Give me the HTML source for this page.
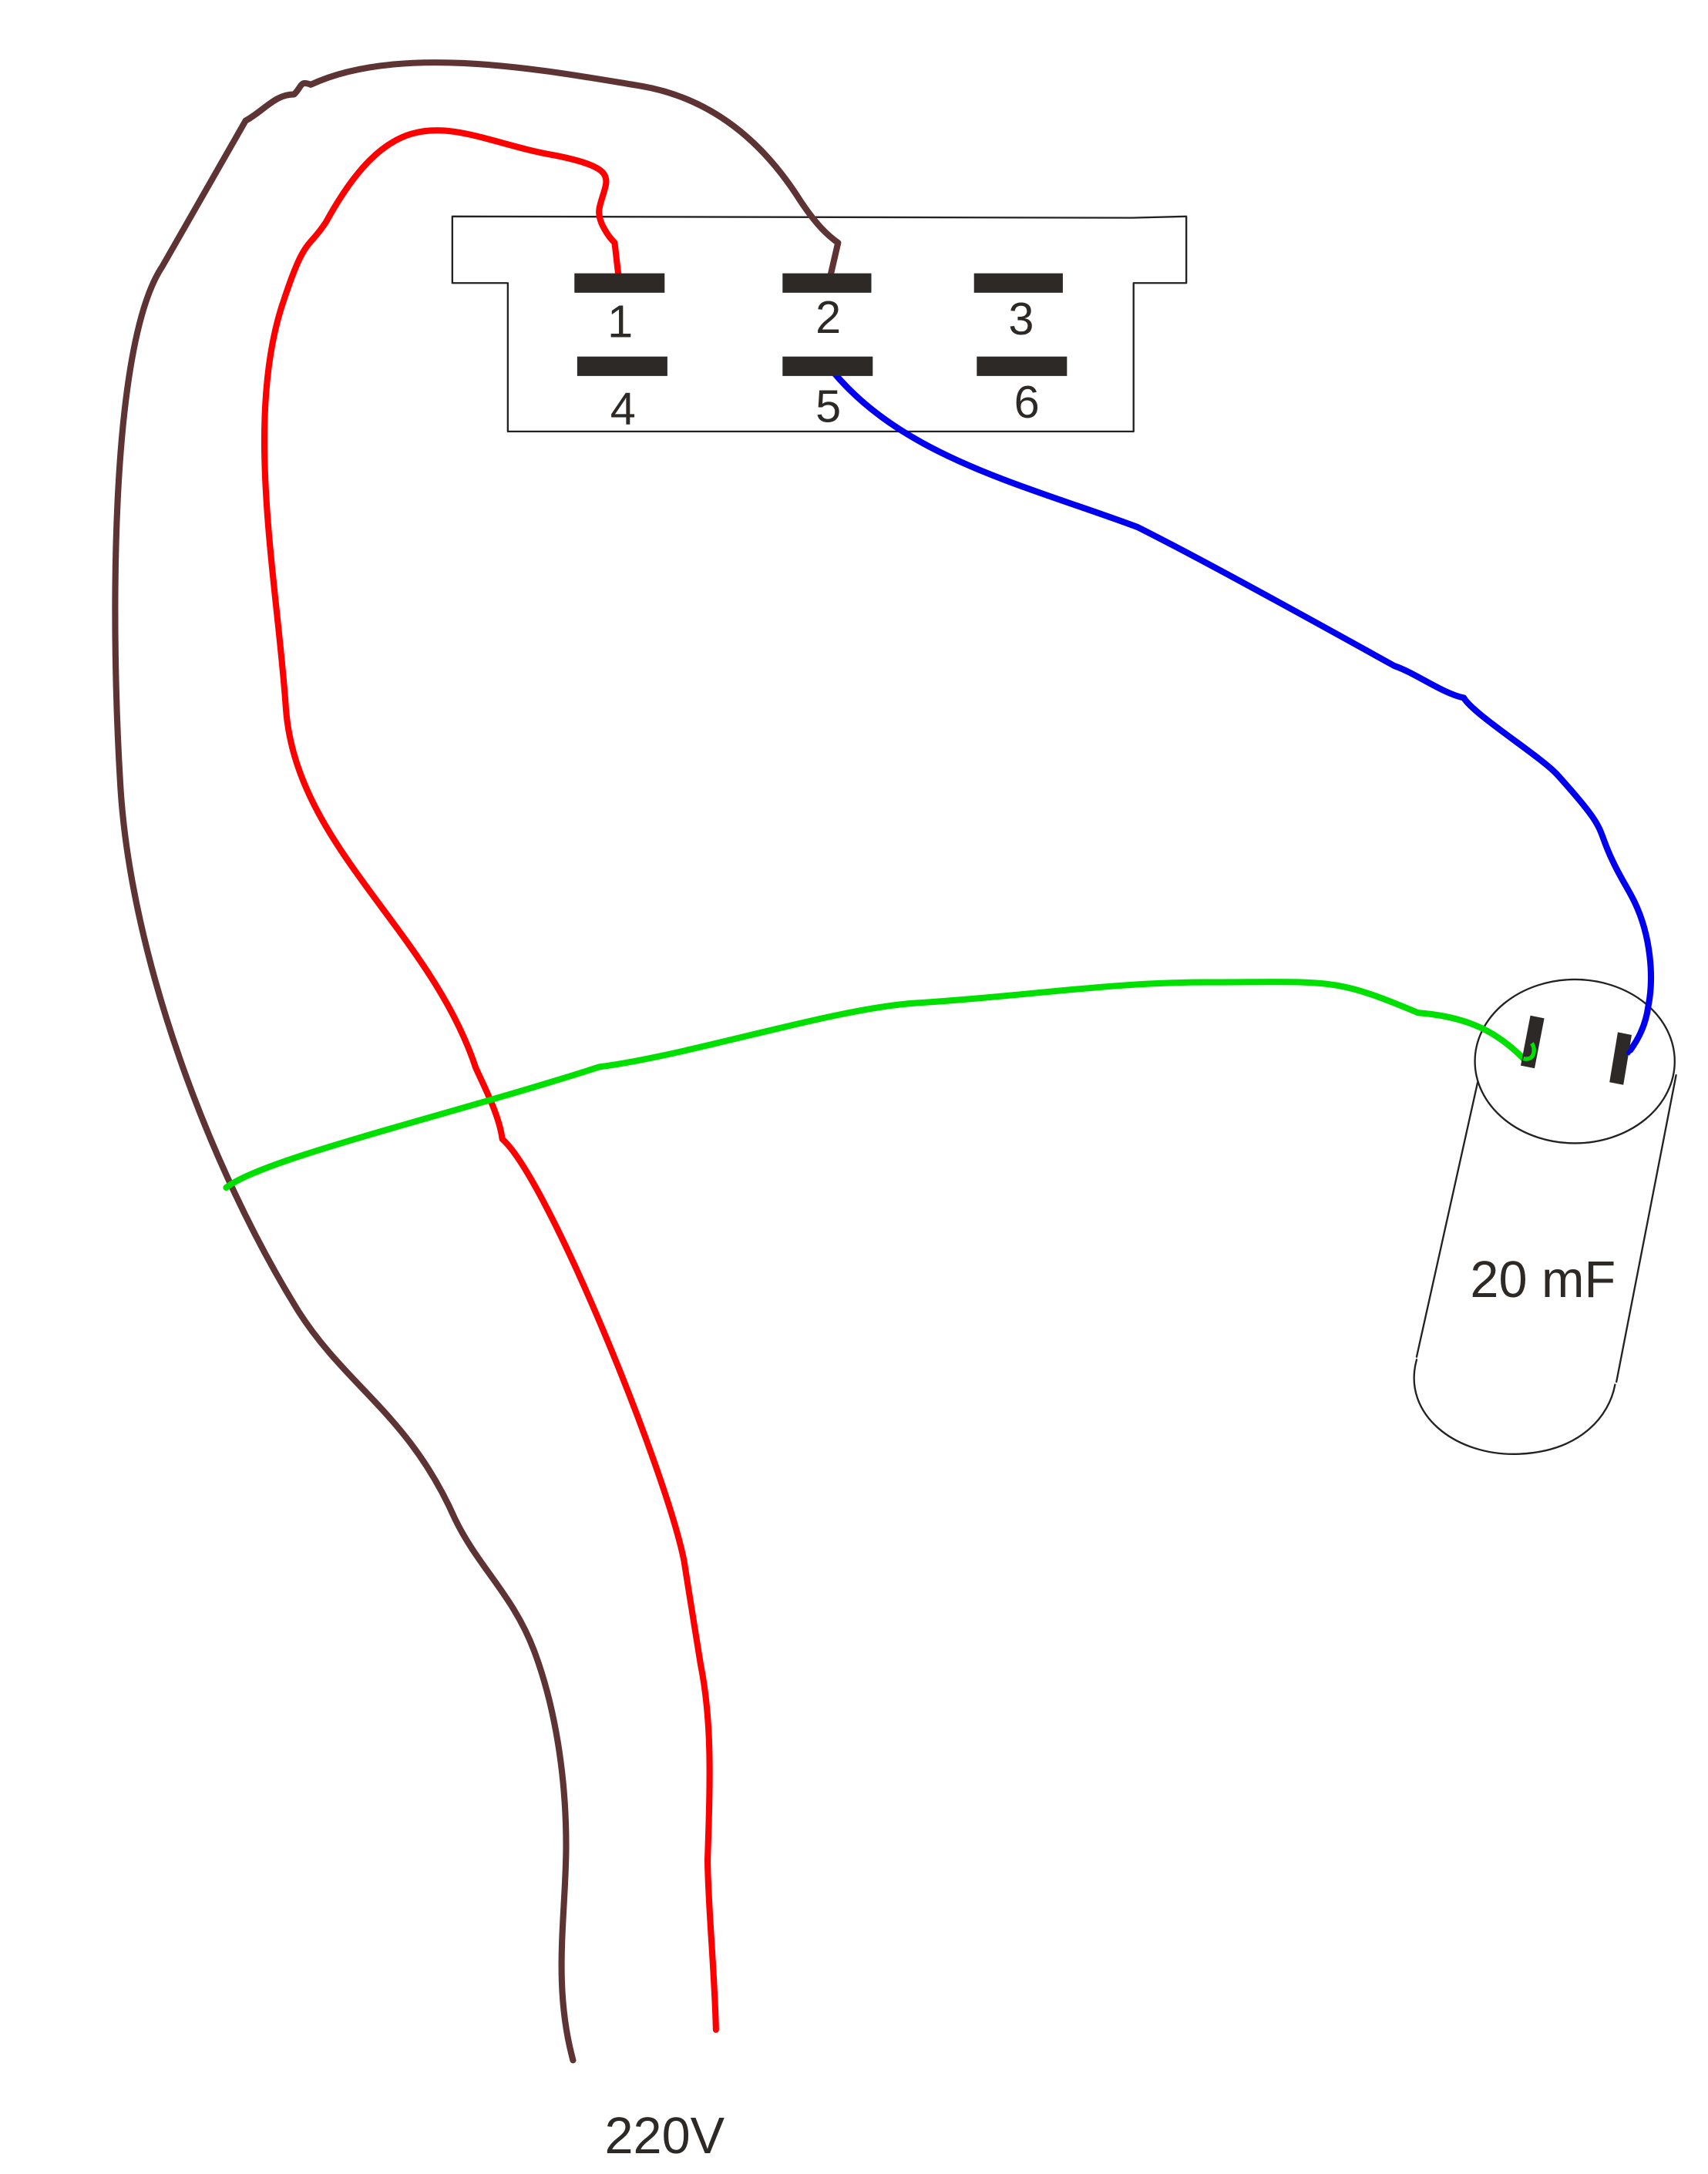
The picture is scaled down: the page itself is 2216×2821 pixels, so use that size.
<!DOCTYPE html>
<html><head><style>html,body{margin:0;padding:0;background:#fff}svg{display:block}</style></head>
<body>
<svg width="2216" height="2821" viewBox="0 0 1231 1567" preserveAspectRatio="none" xmlns="http://www.w3.org/2000/svg">
<g fill="none" stroke-linecap="round" stroke-linejoin="round">
<path d="M326,156 L816,157 L855,156 L855,204 L817,204 L817,311 L366,311 L366,204 L326,204 Z" stroke="#222" stroke-width="1.3"/>
<ellipse cx="1135" cy="765" rx="72" ry="59" stroke="#222" stroke-width="1.3"/>
<path d="M1065,780 L1021,978" stroke="#222" stroke-width="1.3"/>
<path d="M1208,775 L1165,996" stroke="#222" stroke-width="1.3"/>
<path d="M1021,980 C1010,1020 1050,1050 1095,1048 C1140,1046 1160,1020 1164,998" stroke="#222" stroke-width="1.3"/>
<path d="M413,1485 C398,1430 408,1380 408,1330 C408,1280 400,1230 385,1190 C370,1150 345,1130 328,1095 C295,1020 250,1000 215,945 C150,840 95,690 87,570 C80,460 78,250 117,192 L177,87 C190,80 198,68 212,68 C218,62 216,58 224,61 C290,30 400,52 462,62 C520,72 555,110 577,145 C589,163 597,170 604,175 L598,201" stroke="#5e3333" stroke-width="4.5"/>
<path d="M516,1463 C515,1420 510,1370 510,1340 C512,1280 513,1240 505,1200 C500,1170 497,1150 493,1125 C480,1060 395,850 362,821 C360,805 350,785 343,770 C310,670 213,610 206,510 C200,420 175,300 205,215 C220,170 222,180 235,160 C290,60 330,100 400,112 C450,122 436,130 432,150 C430,160 440,172 443,175 L446,201" stroke="#f00" stroke-width="4.5"/>
<path d="M163,856 C190,835 320,805 432,769 C500,760 600,727 660,723 C740,718 800,708 870,708 C960,708 960,704 1022,730 C1060,733 1080,745 1098,763 C1106,765 1107,756 1104,752" stroke="#00e000" stroke-width="4.5"/>
<path d="M598,265 C650,330 740,350 820,380 C870,405 960,455 1005,480 C1020,485 1040,500 1055,503 C1062,515 1110,545 1122,558 C1160,600 1150,595 1162,620 C1168,633 1172,638 1178,650 C1190,675 1192,705 1188,725 C1186,740 1180,750 1175,757" stroke="#0000ee" stroke-width="4.5"/>
</g>
<g fill="#2d2926">
<rect x="414" y="197" width="65" height="14"/>
<rect x="564" y="197" width="64" height="14"/>
<rect x="702" y="197" width="64" height="14"/>
<rect x="416" y="257" width="65" height="14"/>
<rect x="564" y="257" width="65" height="14"/>
<rect x="704" y="257" width="65" height="14"/>
<polygon points="1103,732 1113,734 1106,770 1096,768"/>
<polygon points="1166,744 1176,746 1170,782 1160,780"/>
</g>
<path d="M1098,763 C1106,765 1107,756 1104,752" fill="none" stroke="#00e000" stroke-width="3"/>
<path d="M1180,750 L1173,760" fill="none" stroke="#0000ee" stroke-width="3"/>
<g font-family="Liberation Sans, sans-serif" font-size="33" fill="#2d2926" text-anchor="middle">
<text x="447" y="243">1</text>
<text x="597" y="240">2</text>
<text x="736" y="241">3</text>
<text x="449" y="306">4</text>
<text x="597" y="304">5</text>
<text x="740" y="301">6</text>
<text x="1112" y="935" font-size="37">20 mF</text>
<text x="479" y="1552" font-size="37">220V</text>
</g>
</svg>
</body></html>
